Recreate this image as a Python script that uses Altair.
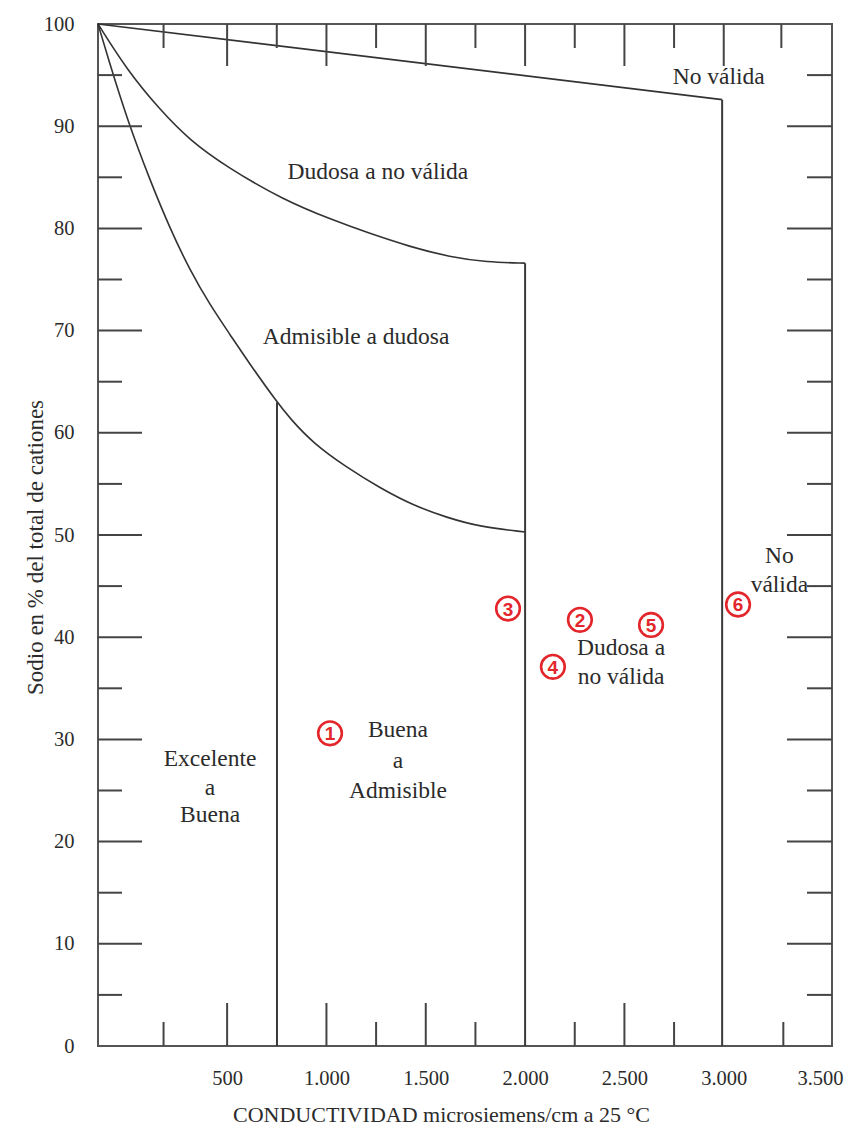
import altair as alt
import pandas as pd

# ---- boundary curves ----
top_x = [-150, 2992]
top_y = [100, 92.6]
upper_x = [-150, -4, 162, 313, 499, 781, 1033, 1204, 1421, 1622, 1808, 2000]
upper_y = [100, 95.5, 91.6, 88.6, 86.0, 82.8, 80.8, 79.6, 78.2, 77.2, 76.7, 76.6]
lower_x = [-150, -100, 1, 112, 212, 313, 414, 515, 615, 751, 817, 932, 1103,
           1270, 1436, 1607, 1773, 2000]
lower_y = [100, 96.7, 90.4, 84.7, 80.0, 75.9, 72.5, 69.6, 66.7, 63.0, 61.4,
           59.0, 56.6, 54.6, 52.9, 51.7, 50.8, 50.3]

# vertical boundaries
vert_x = [751, 2000, 2992]
vert_top = [63.0, 76.6, 92.6]

# region labels (one entry per line)
label_text = ["No válida", "Dudosa a no válida", "Admisible a dudosa", "No", "válida",
              "Dudosa a", "no válida", "Buena", "a", "Admisible",
              "Excelente", "a", "Buena"]
label_x = [2975, 1259, 1149, 3280, 3280, 2483, 2483, 1360, 1360, 1360, 414, 414, 414]
label_y = [94.8, 85.5, 69.4, 47.9, 45.1, 38.9, 36.1, 30.9, 27.9, 25.0, 28.1, 25.2, 22.6]

# circled sample numbers
num_text = ["1", "2", "3", "4", "5", "6"]
num_x = [1018, 2276, 1914, 2140, 2634, 3072]
num_y = [30.6, 41.7, 42.8, 37.1, 41.2, 43.2]

# axis labels / inner ticks
x_label_values = [500, 1000, 1500, 2000, 2500, 3000, 3500]
y_label_values = [0, 10, 20, 30, 40, 50, 60, 70, 80, 90, 100]
top_long = [500, 1000, 1500, 2000, 2500, 3000]
top_short = [180, 750, 1250, 1750, 2250, 2750, 3290]
bottom_long = [500, 1000, 1500, 2500]
bottom_short = [180, 1250, 1750, 2250, 2750, 3300]
side_long = [10, 20, 30, 40, 50, 60, 70, 80, 90]
side_short = [5, 15, 25, 35, 45, 55, 65, 75, 85, 95]

W, H = 734, 1022
SERIF = "Liberation Serif"
INK = "#2b2b2b"
RED = "#e3262b"

xscale = alt.Scale(domain=[-150, 3545], nice=False, zero=False)
yscale = alt.Scale(domain=[0, 100], nice=False, zero=False)

xaxis = alt.Axis(values=x_label_values, grid=False, domain=False, ticks=False, tickSize=0,
                 labelExpr="replace(format(datum.value, ','), ',', '.')",
                 labelFont=SERIF, labelFontSize=20.5, labelColor=INK, labelPadding=22,
                 labelOverlap=False,
                 labelAlign={"condition": {"test": "datum.value >= 3500", "value": "right"},
                             "value": "center"},
                 labelOffset={"condition": {"test": "datum.value >= 3500", "value": 20},
                              "value": 0},
                 title="CONDUCTIVIDAD microsiemens/cm a 25 °C",
                 titleFont=SERIF, titleFontSize=22, titleFontWeight="normal",
                 titleColor=INK, titlePadding=16, titleX=343, titleAlign="center")
yaxis = alt.Axis(values=y_label_values, grid=False, domain=False, ticks=False, tickSize=0,
                 labelFont=SERIF, labelFontSize=20.5, labelColor=INK, labelPadding=24,
                 title="Sodio en % del total de cationes",
                 titleFont=SERIF, titleFontSize=23, titleFontWeight="normal",
                 titleColor=INK, titleX=-63, titleY=523, titleAngle=270,
                 titleAlign="center", titleBaseline="middle")

X = alt.X("x:Q", scale=xscale, axis=xaxis)
Y = alt.Y("y:Q", scale=yscale, axis=yaxis)

rows = []
for name, xs, ys in [("top", top_x, top_y), ("upper", upper_x, upper_y), ("lower", lower_x, lower_y)]:
    for i, (a, b) in enumerate(zip(xs, ys)):
        rows.append({"curve": name, "i": i, "x": a, "y": b})
curves_df = pd.DataFrame(rows)

curves = alt.Chart(curves_df).mark_line(color="#333333", strokeWidth=1.6, interpolate="basis").encode(
    x=X, y=Y, detail="curve:N", order="i:Q")

verts = alt.Chart(pd.DataFrame({"x": vert_x, "y": [0] * len(vert_x), "y2": vert_top})).mark_rule(
    color="#3a3a3a", strokeWidth=2).encode(x=X, y=Y, y2="y2:Q")


def xticks(vals, y1, y2):
    return alt.Chart(pd.DataFrame({"x": vals})).mark_rule(color="#444444", strokeWidth=2).encode(
        x=X, y=alt.value(y1), y2=alt.value(y2))


def yticks(vals, x1, x2):
    return alt.Chart(pd.DataFrame({"y": vals})).mark_rule(color="#444444", strokeWidth=2).encode(
        y=Y, x=alt.value(x1), x2=alt.value(x2))


tick_layers = [
    xticks(top_long, 0, 42), xticks(top_short, 0, 24),
    xticks(bottom_long, H, H - 43), xticks(bottom_short, H, H - 24),
    yticks(side_long, 0, 44), yticks(side_short, 0, 24),
    yticks(side_long, W, W - 45), yticks(side_short, W, W - 25),
]

labels = alt.Chart(pd.DataFrame({"t": label_text, "x": label_x, "y": label_y})).mark_text(
    font=SERIF, fontSize=23.5, color=INK, align="center", baseline="middle").encode(
    x=X, y=Y, text="t:N")

num_df = pd.DataFrame({"t": num_text, "x": num_x, "y": num_y})
circles = alt.Chart(num_df).mark_point(shape="circle", size=560, filled=False, fill="white",
                                       fillOpacity=1, stroke=RED, strokeWidth=2.6, opacity=1).encode(
    x=X, y=Y)
nums = alt.Chart(num_df).mark_text(font="Liberation Sans", fontSize=19, fontWeight="bold",
                                   color=RED, align="center", baseline="middle", dy=1).encode(
    x=X, y=Y, text="t:N")

chart = alt.layer(curves, verts, *tick_layers, labels, circles, nums).properties(
    width=W, height=H,
    padding={"left": 90, "top": 16, "right": 13, "bottom": 80},
    autosize=alt.AutoSizeParams(type="none"),
    background="white",
).configure_view(stroke="#555555", strokeWidth=2)

chart.save("out.html", embed_options={"renderer": "svg", "actions": False})
